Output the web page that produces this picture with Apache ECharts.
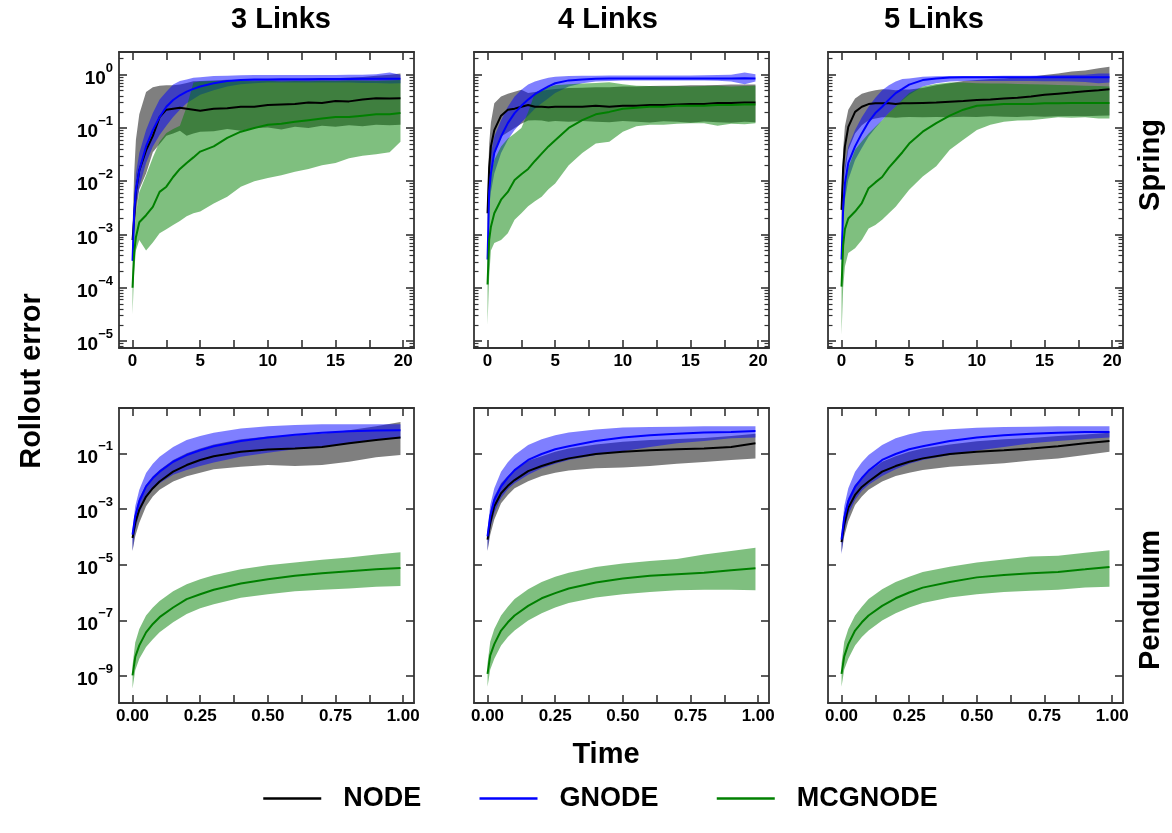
<!DOCTYPE html>
<html>
<head>
<meta charset="utf-8">
<script src="https://cdn.jsdelivr.net/npm/echarts@6/dist/echarts.min.js"></script>
<style>
html,body{margin:0;padding:0;background:#ffffff;}
#main{width:1172px;height:833px;}
</style>
</head>
<body>
<div id="main"></div>
<script>
// ---------------- DATA ----------------
const MODELS = ['NODE', 'GNODE', 'MCGNODE'];
const COLUMN_TITLES = ['3 Links', '4 Links', '5 Links'];
const ROW_TITLES = ['Spring', 'Pendulum'];

const X_SPRING = [0, 0.12, 0.25, 0.5, 1, 1.5, 2, 2.5, 3, 3.5, 4, 4.5, 5, 6, 7, 8, 9, 10, 11, 12, 13, 14, 15, 16, 17, 18, 19, 19.8];
const X_PENDULUM = [0, 0.01, 0.025, 0.05, 0.075, 0.1, 0.15, 0.2, 0.25, 0.3, 0.4, 0.5, 0.6, 0.7, 0.8, 0.9, 0.99];

const SPRING_X_TICKS = [0, 2.5, 5, 7.5, 10, 12.5, 15, 17.5, 20];
const SPRING_X_LABELS = [0, 5, 10, 15, 20];
const PEND_X_TICKS = [0, 0.125, 0.25, 0.375, 0.5, 0.625, 0.75, 0.875, 1];
const PEND_X_LABELS = [0, 0.25, 0.5, 0.75, 1];
const SPRING_Y_EXPONENTS = [-5, -4, -3, -2, -1, 0];
const PEND_Y_EXPONENTS = [-9, -7, -5, -3, -1];

// Spring, 3 links
const S3_NODE_MEAN = [7.9e-4, 2.0e-3, 6.3e-3, 1.6e-2, 3.8e-2, 7.1e-2, 0.16, 0.22, 0.23, 0.24, 0.23, 0.22, 0.21, 0.23, 0.235, 0.25, 0.25, 0.27, 0.275, 0.28, 0.30, 0.295, 0.32, 0.315, 0.34, 0.36, 0.355, 0.36];
const S3_NODE_LO = [3.2e-4, 1.0e-3, 2.5e-3, 7.1e-3, 1.4e-2, 3.5e-2, 5.0e-2, 7.1e-2, 7.9e-2, 8.9e-2, 7.1e-2, 7.9e-2, 8.5e-2, 8.7e-2, 9.5e-2, 8.9e-2, 0.10, 0.102, 9.3e-2, 0.105, 0.10, 0.11, 0.105, 0.112, 0.107, 0.115, 0.112, 0.115];
const S3_NODE_HI = [1.3e-3, 1.4e-2, 6.0e-2, 0.18, 0.47, 0.58, 0.62, 0.63, 0.63, 0.65, 0.70, 0.75, 0.76, 0.78, 0.80, 0.78, 0.82, 0.80, 0.83, 0.82, 0.85, 0.84, 0.86, 0.88, 0.90, 0.95, 1.0, 1.05];
const S3_GNODE_MEAN = [3.2e-4, 2.5e-3, 6.9e-3, 1.6e-2, 4.5e-2, 9.1e-2, 0.16, 0.25, 0.335, 0.41, 0.48, 0.54, 0.60, 0.69, 0.76, 0.79, 0.81, 0.81, 0.82, 0.82, 0.82, 0.83, 0.83, 0.83, 0.84, 0.84, 0.84, 0.84];
const S3_GNODE_LO = [2.5e-4, 1.3e-3, 3.5e-3, 7.9e-3, 2.2e-2, 4.5e-2, 7.4e-2, 0.11, 0.16, 0.22, 0.29, 0.35, 0.42, 0.51, 0.60, 0.66, 0.69, 0.71, 0.71, 0.71, 0.71, 0.71, 0.71, 0.71, 0.70, 0.70, 0.68, 0.69];
const S3_GNODE_HI = [5.0e-4, 5.0e-3, 1.4e-2, 3.4e-2, 9.1e-2, 0.19, 0.34, 0.48, 0.65, 0.76, 0.81, 0.87, 0.89, 0.94, 0.95, 0.97, 0.98, 0.98, 0.98, 0.99, 0.99, 0.99, 0.99, 1.0, 1.0, 1.02, 1.1, 1.0];
const S3_MC_MEAN = [1.0e-4, 4.5e-4, 8.9e-4, 1.7e-3, 2.3e-3, 3.3e-3, 6.3e-3, 7.9e-3, 1.2e-2, 1.7e-2, 2.2e-2, 2.8e-2, 3.6e-2, 4.5e-2, 6.5e-2, 8.5e-2, 0.10, 0.115, 0.12, 0.13, 0.14, 0.15, 0.16, 0.16, 0.17, 0.18, 0.18, 0.19];
const S3_MC_LO = [3.2e-5, 2.0e-4, 5.0e-4, 7.9e-4, 5.0e-4, 7.1e-4, 1.05e-3, 1.26e-3, 1.5e-3, 1.8e-3, 2.2e-3, 2.5e-3, 2.7e-3, 3.8e-3, 5.1e-3, 7.9e-3, 1.0e-2, 1.15e-2, 1.3e-2, 1.5e-2, 1.7e-2, 2.0e-2, 2.2e-2, 2.7e-2, 3.0e-2, 3.2e-2, 3.5e-2, 5.5e-2];
const S3_MC_HI = [2.0e-4, 1.0e-3, 2.5e-3, 6.3e-3, 1.3e-2, 2.8e-2, 5.5e-2, 8.0e-2, 9.5e-2, 0.11, 0.25, 0.71, 0.74, 0.76, 0.74, 0.76, 0.75, 0.77, 0.74, 0.76, 0.75, 0.77, 0.76, 0.78, 0.77, 0.76, 0.78, 0.79];

// Spring, 4 links
const S4_NODE_MEAN = [2.5e-3, 1.8e-2, 4.5e-2, 9.1e-2, 0.17, 0.22, 0.23, 0.25, 0.27, 0.25, 0.25, 0.245, 0.25, 0.25, 0.25, 0.26, 0.25, 0.26, 0.26, 0.27, 0.27, 0.275, 0.28, 0.28, 0.295, 0.295, 0.30, 0.30];
const S4_NODE_LO = [1.0e-3, 5.0e-3, 1.26e-2, 3.2e-2, 6.9e-2, 8.3e-2, 0.10, 0.12, 0.138, 0.14, 0.138, 0.13, 0.135, 0.13, 0.135, 0.13, 0.128, 0.135, 0.13, 0.127, 0.133, 0.13, 0.125, 0.132, 0.128, 0.125, 0.13, 0.128];
const S4_NODE_HI = [5.0e-3, 5.0e-2, 0.126, 0.29, 0.39, 0.44, 0.48, 0.52, 0.45, 0.47, 0.50, 0.52, 0.54, 0.56, 0.57, 0.58, 0.58, 0.60, 0.60, 0.61, 0.62, 0.62, 0.63, 0.63, 0.64, 0.65, 0.65, 0.65];
const S4_GNODE_MEAN = [3.4e-4, 6.3e-3, 1.4e-2, 3.4e-2, 6.9e-2, 0.123, 0.19, 0.26, 0.34, 0.43, 0.51, 0.60, 0.69, 0.78, 0.81, 0.84, 0.85, 0.85, 0.85, 0.85, 0.85, 0.85, 0.85, 0.85, 0.85, 0.85, 0.86, 0.85];
const S4_GNODE_LO = [1.6e-4, 3.2e-3, 6.3e-3, 1.4e-2, 3.4e-2, 6.0e-2, 9.1e-2, 0.126, 0.17, 0.23, 0.29, 0.36, 0.45, 0.60, 0.69, 0.74, 0.76, 0.78, 0.78, 0.78, 0.78, 0.78, 0.78, 0.78, 0.77, 0.74, 0.66, 0.74];
const S4_GNODE_HI = [6.3e-4, 1.26e-2, 3.4e-2, 6.9e-2, 0.14, 0.25, 0.39, 0.52, 0.65, 0.74, 0.81, 0.87, 0.91, 0.94, 0.95, 0.955, 0.96, 0.96, 0.96, 0.96, 0.96, 0.96, 0.96, 0.97, 0.98, 1.0, 1.1, 1.02];
const S4_MC_MEAN = [1.15e-4, 7.9e-4, 1.4e-3, 2.5e-3, 4.5e-3, 6.3e-3, 1.05e-2, 1.35e-2, 1.7e-2, 2.4e-2, 3.3e-2, 4.5e-2, 5.9e-2, 0.10, 0.14, 0.18, 0.20, 0.23, 0.24, 0.25, 0.25, 0.26, 0.26, 0.26, 0.27, 0.27, 0.275, 0.275];
const S4_MC_LO = [2.0e-5, 1.6e-4, 5.0e-4, 6.9e-4, 7.9e-4, 1.05e-3, 1.9e-3, 2.5e-3, 3.4e-3, 4.2e-3, 5.1e-3, 7.1e-3, 9.1e-3, 2.0e-2, 3.4e-2, 5.1e-2, 5.5e-2, 8.5e-2, 0.107, 0.115, 0.115, 0.12, 0.123, 0.123, 0.11, 0.12, 0.117, 0.123];
const S4_MC_HI = [3.2e-4, 7.9e-3, 1.4e-2, 2.5e-2, 4.5e-2, 6.3e-2, 7.9e-2, 0.10, 0.2, 0.45, 0.52, 0.58, 0.63, 0.66, 0.68, 0.70, 0.72, 0.66, 0.62, 0.61, 0.60, 0.61, 0.60, 0.61, 0.62, 0.60, 0.61, 0.62];

// Spring, 5 links
const S5_NODE_MEAN = [2.9e-3, 1.8e-2, 4.5e-2, 0.105, 0.20, 0.25, 0.28, 0.29, 0.29, 0.29, 0.28, 0.29, 0.29, 0.295, 0.30, 0.31, 0.32, 0.335, 0.34, 0.355, 0.37, 0.39, 0.42, 0.44, 0.46, 0.49, 0.51, 0.53];
const S5_NODE_LO = [1.26e-3, 6.3e-3, 1.4e-2, 3.9e-2, 7.9e-2, 0.112, 0.14, 0.15, 0.158, 0.158, 0.155, 0.158, 0.16, 0.158, 0.16, 0.158, 0.162, 0.16, 0.165, 0.162, 0.16, 0.165, 0.163, 0.165, 0.168, 0.165, 0.17, 0.172];
const S5_NODE_HI = [5.0e-3, 4.0e-2, 0.107, 0.22, 0.355, 0.44, 0.48, 0.51, 0.53, 0.525, 0.51, 0.525, 0.525, 0.56, 0.63, 0.69, 0.76, 0.79, 0.83, 0.85, 0.89, 0.91, 0.98, 1.05, 1.15, 1.2, 1.32, 1.41];
const S5_GNODE_MEAN = [3.4e-4, 3.2e-3, 9.1e-3, 2.2e-2, 4.5e-2, 7.9e-2, 0.13, 0.19, 0.25, 0.34, 0.45, 0.54, 0.65, 0.79, 0.85, 0.88, 0.89, 0.89, 0.89, 0.89, 0.89, 0.89, 0.89, 0.89, 0.89, 0.89, 0.89, 0.89];
const S5_GNODE_LO = [1.6e-4, 1.6e-3, 4.5e-3, 1.07e-2, 2.5e-2, 4.2e-2, 6.9e-2, 0.10, 0.14, 0.19, 0.25, 0.33, 0.42, 0.60, 0.69, 0.74, 0.76, 0.76, 0.76, 0.76, 0.76, 0.76, 0.75, 0.75, 0.74, 0.73, 0.69, 0.71];
const S5_GNODE_HI = [6.3e-4, 6.3e-3, 1.9e-2, 4.5e-2, 9.1e-2, 0.158, 0.25, 0.37, 0.51, 0.63, 0.74, 0.83, 0.85, 0.91, 0.93, 0.94, 0.94, 0.94, 0.945, 0.95, 0.95, 0.95, 0.96, 0.97, 0.98, 1.0, 1.05, 1.05];
const S5_MC_MEAN = [1.05e-4, 6.3e-4, 1.26e-3, 2.0e-3, 2.7e-3, 3.9e-3, 7.4e-3, 9.5e-3, 1.2e-2, 1.8e-2, 2.5e-2, 3.5e-2, 5.1e-2, 8.5e-2, 0.123, 0.17, 0.22, 0.26, 0.27, 0.28, 0.28, 0.28, 0.29, 0.29, 0.295, 0.295, 0.295, 0.295];
const S5_MC_LO = [1.3e-5, 1.0e-4, 2.5e-4, 4.5e-4, 5.5e-4, 7.9e-4, 1.3e-3, 1.5e-3, 1.9e-3, 2.5e-3, 3.3e-3, 4.8e-3, 6.9e-3, 1.23e-2, 1.9e-2, 3.9e-2, 6.0e-2, 9.1e-2, 0.115, 0.13, 0.138, 0.14, 0.148, 0.158, 0.155, 0.158, 0.15, 0.15];
const S5_MC_HI = [2.5e-4, 4.5e-3, 9.1e-3, 1.8e-2, 3.9e-2, 5.6e-2, 7.9e-2, 0.105, 0.14, 0.19, 0.25, 0.34, 0.45, 0.60, 0.67, 0.71, 0.71, 0.69, 0.68, 0.68, 0.67, 0.66, 0.65, 0.64, 0.63, 0.62, 0.61, 0.60];

// Pendulum, 3 links
const P3_NODE_MEAN = [9.1e-5, 3.2e-4, 9.5e-4, 2.8e-3, 5.6e-3, 9.8e-3, 2.2e-2, 3.8e-2, 5.8e-2, 7.9e-2, 0.115, 0.138, 0.15, 0.17, 0.23, 0.30, 0.37];
const P3_NODE_LO = [3.1e-5, 1.05e-4, 3.2e-4, 1.26e-3, 2.8e-3, 4.9e-3, 9.8e-3, 1.5e-2, 2.0e-2, 2.7e-2, 3.3e-2, 3.8e-2, 3.5e-2, 3.8e-2, 5.0e-2, 7.2e-2, 8.7e-2];
const P3_NODE_HI = [1.4e-4, 7.2e-4, 2.5e-3, 7.4e-3, 1.5e-2, 2.5e-2, 5.8e-2, 0.10, 0.15, 0.21, 0.32, 0.40, 0.45, 0.51, 0.68, 0.95, 1.35];
const P3_GNODE_MEAN = [1.2e-4, 5.5e-4, 1.9e-3, 6.5e-3, 1.3e-2, 2.2e-2, 5.0e-2, 8.7e-2, 0.13, 0.18, 0.28, 0.37, 0.47, 0.55, 0.62, 0.66, 0.68];
const P3_GNODE_LO = [3.1e-5, 1.8e-4, 7.2e-4, 2.5e-3, 5.1e-3, 8.5e-3, 1.7e-2, 2.5e-2, 3.5e-2, 4.7e-2, 7.6e-2, 0.105, 0.14, 0.17, 0.23, 0.30, 0.35];
const P3_GNODE_HI = [1.8e-4, 1.26e-3, 4.9e-3, 1.95e-2, 4.2e-2, 7.6e-2, 0.17, 0.30, 0.42, 0.55, 0.78, 0.95, 1.05, 1.12, 1.12, 1.12, 1.12];
const P3_MC_MEAN = [1.05e-9, 4.8e-9, 1.26e-8, 3.7e-8, 7.4e-8, 1.3e-7, 2.9e-7, 5.8e-7, 8.7e-7, 1.26e-6, 2.1e-6, 3.0e-6, 4.0e-6, 4.9e-6, 5.8e-6, 6.8e-6, 7.6e-6];
const P3_MC_LO = [3.5e-10, 1.6e-9, 4.2e-9, 1.1e-8, 2.1e-8, 3.7e-8, 8.5e-8, 1.7e-7, 2.7e-7, 3.8e-7, 6.5e-7, 8.7e-7, 1.1e-6, 1.26e-6, 1.4e-6, 1.6e-6, 1.7e-6];
const P3_MC_HI = [2.4e-9, 1.6e-8, 4.9e-8, 1.5e-7, 2.9e-7, 5.0e-7, 1.1e-6, 2.0e-6, 3.0e-6, 4.2e-6, 6.8e-6, 9.5e-6, 1.2e-5, 1.5e-5, 1.8e-5, 2.3e-5, 2.8e-5];

// Pendulum, 4 links
const P4_NODE_MEAN = [7.9e-5, 3.2e-4, 1.26e-3, 3.7e-3, 6.8e-3, 1.1e-2, 2.3e-2, 3.5e-2, 5.0e-2, 6.6e-2, 9.5e-2, 0.115, 0.13, 0.14, 0.15, 0.17, 0.23];
const P4_NODE_LO = [3.1e-5, 1.2e-4, 4.2e-4, 1.6e-3, 3.2e-3, 5.6e-3, 1.0e-2, 1.55e-2, 2.0e-2, 2.4e-2, 2.9e-2, 3.1e-2, 3.5e-2, 4.2e-2, 4.9e-2, 5.8e-2, 6.6e-2];
const P4_NODE_HI = [1.4e-4, 8.3e-4, 2.8e-3, 8.5e-3, 1.55e-2, 2.5e-2, 5.4e-2, 7.9e-2, 0.115, 0.15, 0.21, 0.26, 0.30, 0.33, 0.36, 0.42, 0.51];
const P4_GNODE_MEAN = [1.05e-4, 5.5e-4, 2.1e-3, 6.5e-3, 1.35e-2, 2.5e-2, 5.8e-2, 9.5e-2, 0.14, 0.18, 0.28, 0.37, 0.45, 0.51, 0.56, 0.59, 0.63];
const P4_GNODE_LO = [3.1e-5, 2.1e-4, 7.2e-4, 2.5e-3, 5.1e-3, 8.5e-3, 1.7e-2, 2.9e-2, 4.2e-2, 5.8e-2, 8.7e-2, 0.12, 0.17, 0.23, 0.28, 0.35, 0.37];
const P4_GNODE_HI = [1.8e-4, 1.4e-3, 5.6e-3, 2.2e-2, 4.8e-2, 8.7e-2, 0.20, 0.32, 0.45, 0.56, 0.72, 0.85, 0.89, 0.91, 0.95, 0.95, 0.95];
const P4_MC_MEAN = [1.2e-9, 5.5e-9, 1.4e-8, 4.3e-8, 8.5e-8, 1.5e-7, 3.3e-7, 6.2e-7, 9.5e-7, 1.4e-6, 2.3e-6, 3.2e-6, 4.0e-6, 4.5e-6, 5.1e-6, 6.3e-6, 7.4e-6];
const P4_MC_LO = [4.1e-10, 1.7e-9, 4.2e-9, 1.26e-8, 2.5e-8, 4.3e-8, 9.8e-8, 1.8e-7, 2.9e-7, 4.2e-7, 6.6e-7, 8.7e-7, 1.05e-6, 1.2e-6, 1.26e-6, 1.26e-6, 1.2e-6];
const P4_MC_HI = [2.8e-9, 1.7e-8, 4.9e-8, 1.5e-7, 3.1e-7, 5.8e-7, 1.3e-6, 2.4e-6, 3.7e-6, 5.1e-6, 8.3e-6, 1.1e-5, 1.35e-5, 1.6e-5, 2.3e-5, 3.1e-5, 4.1e-5];

// Pendulum, 5 links
const P5_NODE_MEAN = [6.5e-5, 2.8e-4, 1.1e-3, 3.2e-3, 6.2e-3, 9.8e-3, 2.2e-2, 3.5e-2, 5.0e-2, 6.6e-2, 9.5e-2, 0.115, 0.13, 0.15, 0.18, 0.23, 0.28];
const P5_NODE_LO = [2.7e-5, 1.05e-4, 3.6e-4, 1.4e-3, 2.8e-3, 4.9e-3, 9.8e-3, 1.55e-2, 2.0e-2, 2.5e-2, 3.3e-2, 3.8e-2, 4.4e-2, 5.5e-2, 6.6e-2, 8.7e-2, 0.115];
const P5_NODE_HI = [1.05e-4, 7.2e-4, 2.5e-3, 7.4e-3, 1.4e-2, 2.2e-2, 5.0e-2, 7.9e-2, 0.115, 0.15, 0.21, 0.27, 0.32, 0.36, 0.42, 0.48, 0.55];
const P5_GNODE_MEAN = [7.9e-5, 4.8e-4, 1.9e-3, 6.2e-3, 1.3e-2, 2.4e-2, 5.8e-2, 9.5e-2, 0.14, 0.18, 0.28, 0.37, 0.45, 0.51, 0.55, 0.58, 0.59];
const P5_GNODE_LO = [2.3e-5, 1.6e-4, 6.3e-4, 2.1e-3, 4.5e-3, 7.4e-3, 1.55e-2, 2.7e-2, 4.2e-2, 5.8e-2, 8.7e-2, 0.126, 0.17, 0.23, 0.28, 0.33, 0.37];
const P5_GNODE_HI = [1.4e-4, 1.26e-3, 5.6e-3, 2.2e-2, 4.8e-2, 8.7e-2, 0.20, 0.35, 0.49, 0.62, 0.74, 0.83, 0.89, 0.91, 0.95, 0.95, 0.95];
const P5_MC_MEAN = [1.2e-9, 5.1e-9, 1.4e-8, 4.3e-8, 8.5e-8, 1.5e-7, 3.3e-7, 6.2e-7, 1.0e-6, 1.5e-6, 2.4e-6, 3.5e-6, 4.3e-6, 4.9e-6, 5.5e-6, 6.8e-6, 8.3e-6];
const P5_MC_LO = [4.1e-10, 1.7e-9, 4.2e-9, 1.26e-8, 2.5e-8, 4.3e-8, 9.8e-8, 1.8e-7, 2.9e-7, 4.2e-7, 6.6e-7, 8.7e-7, 1.05e-6, 1.15e-6, 1.26e-6, 1.5e-6, 1.6e-6];
const P5_MC_HI = [2.8e-9, 1.7e-8, 4.9e-8, 1.5e-7, 3.1e-7, 5.8e-7, 1.3e-6, 2.4e-6, 3.7e-6, 5.5e-6, 8.5e-6, 1.2e-5, 1.55e-5, 1.95e-5, 2.1e-5, 2.7e-5, 3.3e-5];

// ---------------- STYLE / LAYOUT ----------------
const FONT = '"Liberation Sans", Arial, Helvetica, sans-serif';
const LINE_COLORS = { NODE: '#000000', GNODE: '#0000ff', MCGNODE: '#008000' };
const FILL_COLORS = { NODE: 'rgba(0,0,0,0.5)', GNODE: 'rgba(0,0,255,0.5)', MCGNODE: 'rgba(0,128,0,0.5)' };
const FRAME = '#333333';
const COL_LEFT = [119, 474, 828];
const COL_WIDTH = 295;
const TITLE_X = [281, 608, 934];
const ROW_LAYOUT = [
  { top: 52, height: 296, xMin: -1, xMax: 20.8, yMin: -5.13, yMax: 0.425 },
  { top: 408, height: 295, xMin: -0.05, xMax: 1.04, yMin: -9.97, yMax: 0.63 }
];

const PANELS = [
  { row: 0, col: 0, xs: X_SPRING, d: { NODE: [S3_NODE_MEAN, S3_NODE_LO, S3_NODE_HI], GNODE: [S3_GNODE_MEAN, S3_GNODE_LO, S3_GNODE_HI], MCGNODE: [S3_MC_MEAN, S3_MC_LO, S3_MC_HI] } },
  { row: 0, col: 1, xs: X_SPRING, d: { NODE: [S4_NODE_MEAN, S4_NODE_LO, S4_NODE_HI], GNODE: [S4_GNODE_MEAN, S4_GNODE_LO, S4_GNODE_HI], MCGNODE: [S4_MC_MEAN, S4_MC_LO, S4_MC_HI] } },
  { row: 0, col: 2, xs: X_SPRING, d: { NODE: [S5_NODE_MEAN, S5_NODE_LO, S5_NODE_HI], GNODE: [S5_GNODE_MEAN, S5_GNODE_LO, S5_GNODE_HI], MCGNODE: [S5_MC_MEAN, S5_MC_LO, S5_MC_HI] } },
  { row: 1, col: 0, xs: X_PENDULUM, d: { NODE: [P3_NODE_MEAN, P3_NODE_LO, P3_NODE_HI], GNODE: [P3_GNODE_MEAN, P3_GNODE_LO, P3_GNODE_HI], MCGNODE: [P3_MC_MEAN, P3_MC_LO, P3_MC_HI] } },
  { row: 1, col: 1, xs: X_PENDULUM, d: { NODE: [P4_NODE_MEAN, P4_NODE_LO, P4_NODE_HI], GNODE: [P4_GNODE_MEAN, P4_GNODE_LO, P4_GNODE_HI], MCGNODE: [P4_MC_MEAN, P4_MC_LO, P4_MC_HI] } },
  { row: 1, col: 2, xs: X_PENDULUM, d: { NODE: [P5_NODE_MEAN, P5_NODE_LO, P5_NODE_HI], GNODE: [P5_GNODE_MEAN, P5_GNODE_LO, P5_GNODE_HI], MCGNODE: [P5_MC_MEAN, P5_MC_LO, P5_MC_HI] } }
];

// minor log ticks (2..9 x 10^n) for the spring rows
const SPRING_Y_MINORS = [];
for (let n = -6; n <= 0; n++) {
  for (let k = 2; k <= 9; k++) {
    const v = n + Math.log10(k);
    if (v > ROW_LAYOUT[0].yMin && v < ROW_LAYOUT[0].yMax) SPRING_Y_MINORS.push(v);
  }
}

function supLabel(v) {
  const e = Math.round(v);
  return '{b|10}{s|' + (e === 0 ? '0' : '\u2212' + (-e)) + '}';
}

const tickLine = { color: FRAME, width: 1.6 };
const axisLineStyle = { show: true, onZero: false, lineStyle: { color: FRAME, width: 1.8 } };

const grids = [], xAxes = [], yAxes = [], series = [];

PANELS.forEach((p, i) => {
  const L = ROW_LAYOUT[p.row];
  const spring = p.row === 0;
  grids.push({ left: COL_LEFT[p.col], top: L.top, width: COL_WIDTH, height: L.height, containLabel: false });

  const xTicks = spring ? SPRING_X_TICKS : PEND_X_TICKS;
  const xLabels = spring ? SPRING_X_LABELS : PEND_X_LABELS;
  const xBottom = xAxes.length;
  xAxes.push({
    type: 'value', gridIndex: i, position: 'bottom', min: L.xMin, max: L.xMax,
    axisLine: axisLineStyle, splitLine: { show: false },
    axisTick: { show: true, inside: true, length: 8, lineStyle: tickLine, customValues: xTicks },
    axisLabel: {
      show: true, customValues: xLabels, margin: 5,
      fontSize: 17, fontWeight: 'bold', fontFamily: FONT, color: '#000',
      formatter: v => spring ? String(v) : Number(v).toFixed(2)
    }
  });
  xAxes.push({
    type: 'value', gridIndex: i, position: 'top', min: L.xMin, max: L.xMax,
    axisLine: axisLineStyle, splitLine: { show: false },
    axisTick: { show: true, inside: true, length: 8, lineStyle: tickLine, customValues: xTicks },
    axisLabel: { show: false }
  });

  const majors = spring ? SPRING_Y_EXPONENTS : PEND_Y_EXPONENTS;
  const yMain = yAxes.length;
  yAxes.push({
    type: 'value', gridIndex: i, position: 'left', min: L.yMin, max: L.yMax,
    axisLine: axisLineStyle, splitLine: { show: false },
    axisTick: { show: true, inside: true, length: 8, lineStyle: tickLine, customValues: majors },
    axisLabel: {
      show: p.col === 0, customValues: majors, margin: 6,
      formatter: supLabel,
      rich: {
        b: { fontSize: 19, fontWeight: 'bold', fontFamily: FONT, color: '#000', padding: [8, 0, 0, 0] },
        s: { fontSize: 13, fontWeight: 'bold', fontFamily: FONT, color: '#000', padding: [0, 0, 13, 0] }
      }
    }
  });
  yAxes.push({
    type: 'value', gridIndex: i, position: 'right', min: L.yMin, max: L.yMax,
    axisLine: axisLineStyle, splitLine: { show: false },
    axisTick: { show: true, inside: true, length: 8, lineStyle: tickLine, customValues: majors },
    axisLabel: { show: false }
  });
  if (spring) {
    ['left', 'right'].forEach(pos => {
      yAxes.push({
        type: 'value', gridIndex: i, position: pos, min: L.yMin, max: L.yMax,
        axisLine: { show: false, onZero: false }, splitLine: { show: false },
        axisTick: { show: true, inside: true, length: 4.5, lineStyle: { color: FRAME, width: 1.2 }, customValues: SPRING_Y_MINORS },
        axisLabel: { show: false }
      });
    });
  }

  // bands (spread around the mean), drawn as polygons through the axes
  MODELS.forEach(m => {
    const lo = p.d[m][1], hi = p.d[m][2];
    const pts = p.xs.map((x, k) => [x, Math.log10(lo[k]), Math.log10(hi[k])]);
    series.push({
      type: 'custom', name: m + ' range', coordinateSystem: 'cartesian2d',
      xAxisIndex: xBottom, yAxisIndex: yMain, silent: true, z: 1,
      data: pts, encode: { x: 0, y: [1, 2] },
      renderItem: (params, api) => {
        if (params.dataIndex !== 0) return null;
        const up = pts.map(q => api.coord([q[0], q[2]]));
        const dn = pts.map(q => api.coord([q[0], q[1]])).reverse();
        return { type: 'polygon', shape: { points: up.concat(dn) }, style: { fill: FILL_COLORS[m], stroke: null } };
      }
    });
  });
  MODELS.forEach(m => {
    const mean = p.d[m][0];
    series.push({
      type: 'line', name: m, xAxisIndex: xBottom, yAxisIndex: yMain, z: 3, silent: true,
      data: p.xs.map((x, k) => [x, Math.log10(mean[k])]),
      symbol: 'none', showSymbol: false,
      lineStyle: { color: LINE_COLORS[m], width: 2 }, itemStyle: { color: LINE_COLORS[m] }
    });
  });
});

const bigText = (text, x, y, rot) => ({
  type: 'text', x: x, y: y, rotation: rot || 0, silent: true,
  style: { text: text, fontSize: 29, fontWeight: 'bold', fontFamily: FONT, fill: '#000', align: 'center', verticalAlign: 'middle', textAlign: 'center', textVerticalAlign: 'middle' }
});

const graphics = [];
COLUMN_TITLES.forEach((t, c) => graphics.push(bigText(t, TITLE_X[c], 20)));
graphics.push(bigText(ROW_TITLES[0], 1151, 165, Math.PI / 2));
graphics.push(bigText(ROW_TITLES[1], 1151, 600, Math.PI / 2));
graphics.push(bigText('Rollout error', 32, 381, Math.PI / 2));
graphics.push(bigText('Time', 606, 755));

const option = {
  animation: false,
  backgroundColor: '#ffffff',
  grid: grids,
  xAxis: xAxes,
  yAxis: yAxes,
  series: series,
  graphic: graphics,
  legend: {
    data: MODELS, left: 262, top: 785, padding: 0, selectedMode: false,
    itemWidth: 58, itemHeight: 14, itemGap: 57,
    itemStyle: { opacity: 0 },
    lineStyle: { width: 2.5 },
    textStyle: { fontSize: 27, fontWeight: 'bold', fontFamily: FONT, color: '#000', padding: [0, 0, 0, 17] }
  }
};

const chart = echarts.init(document.getElementById('main'), null, { renderer: 'canvas' });
chart.setOption(option);
</script>
</body>
</html>
